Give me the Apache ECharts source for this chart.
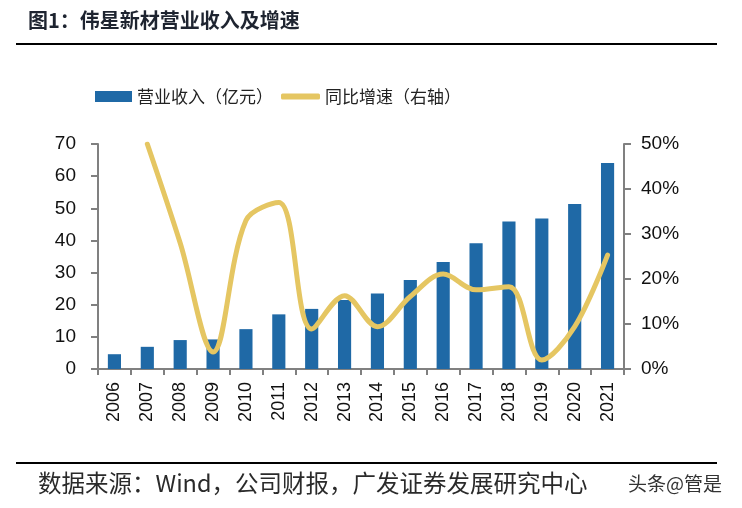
<!DOCTYPE html>
<html><head><meta charset="utf-8">
<script src="https://cdn.jsdelivr.net/npm/echarts@6/dist/echarts.min.js"></script>
<style>html,body{margin:0;padding:0;background:#fff}#c{width:742px;height:508px}</style>
</head><body><div id="c"></div>
<script>
var years = ['2006','2007','2008','2009','2010','2011','2012','2013','2014','2015','2016','2017','2018','2019','2020','2021'];
var revenue = [4.6, 6.9, 9.0, 9.2, 12.4, 17.0, 18.7, 21.5, 23.5, 27.7, 33.3, 39.1, 45.9, 46.8, 51.3, 64.1];
var growth = [null, 50, 28, 3.8, 33, 37, 8.9, 16.3, 9.4, 16.1, 21.1, 17.6, 18.3, 2.0, 9.4, 25.3];
var leftTicks = [0, 70, 10];
var rightTicks = [0, 50, 10];

var chart = echarts.init(document.getElementById('c'));
var fontF = '"Liberation Sans", Arial, "Noto Sans CJK SC", sans-serif';
var cjkF = '"Noto Sans CJK SC", sans-serif';
chart.setOption({
  animation: false,
  textStyle: {fontFamily: fontF},
  graphic: [
    {type:'text', left: 28, top: 10, style:{text:'图1：伟星新材营业收入及增速', font:'bold 20px "Noto Sans CJK SC", sans-serif', fill:'#1e2430'}},
    {type:'rect', shape:{x:16, y:43, width:701, height:2}, style:{fill:'#000'}},
    {type:'rect', shape:{x:16, y:462, width:701, height:2}, style:{fill:'#000'}},
    {type:'text', left: 38, top: 471, style:{text:'数据来源：Wind，公司财报，广发证券发展研究中心', font:'23.5px "Noto Sans CJK SC", sans-serif', fill:'#2a2a2a'}},
    {type:'text', left: 628, top: 474, style:{text:'头条@管是', font:'19px "Noto Sans CJK SC", sans-serif', fill:'#333'}}
  ],
  legend: [
    {top: 83, left: 90, itemWidth: 37, itemHeight: 11,
     textStyle: {fontSize: 17, fontFamily: cjkF, color: '#222'},
     data: [{name:'营业收入（亿元）', icon:'rect'}]},
    {top: 83, left: 276, itemWidth: 39, itemHeight: 6,
     textStyle: {fontSize: 17, fontFamily: cjkF, color: '#222'},
     data: [{name:'同比增速（右轴）', icon:'roundRect'}]}
  ],
  grid: {left: 98, right: 118, top: 144, bottom: 139},
  xAxis: {
    type: 'category', data: years,
    axisLine: {lineStyle: {color: '#808080', width: 2}},
    axisTick: {show: true, length: 6, lineStyle: {color: '#808080', width: 2}},
    axisLabel: {rotate: 90, fontSize: 18, color: '#111', margin: 13, fontFamily: fontF}
  },
  yAxis: [
    {type:'value', min: leftTicks[0], max: leftTicks[1], interval: leftTicks[2],
     splitLine:{show:false},
     axisLine:{show:true, lineStyle:{color:'#808080', width:2}},
     axisTick:{show:true, length:7, lineStyle:{color:'#808080', width:2}},
     axisLabel:{fontSize:19, color:'#111', margin: 22}},
    {type:'value', min: rightTicks[0], max: rightTicks[1], interval: rightTicks[2], position:'right',
     splitLine:{show:false},
     axisLine:{show:true, lineStyle:{color:'#808080', width:2}},
     axisTick:{show:true, length:7, lineStyle:{color:'#808080', width:2}},
     axisLabel:{fontSize:19, color:'#111', margin: 17, formatter:'{value}%'}}
  ],
  series: [
    {name:'营业收入（亿元）', type:'bar', data: revenue, barWidth: '40%', itemStyle:{color:'#1F69A6'}},
    {name:'同比增速（右轴）', type:'line', yAxisIndex: 1, data: growth, smooth: 0.35, symbol:'none',
     lineStyle:{color:'#E5C662', width:5, cap:'round'}, itemStyle:{color:'#E5C662'}}
  ]
});
</script></body></html>
